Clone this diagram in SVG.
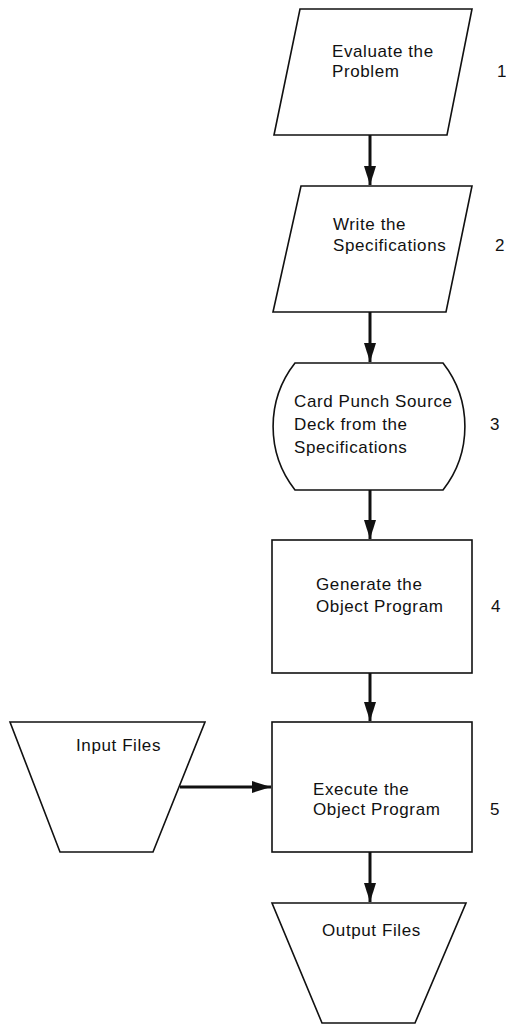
<svg xmlns="http://www.w3.org/2000/svg" width="506" height="1035" viewBox="0 0 506 1035">
<style>
.shape{fill:#fff;stroke:#111;stroke-width:1.6;stroke-linejoin:miter}
.lbl{font-family:"Liberation Sans",Arial,sans-serif;font-size:17px;letter-spacing:0.6px;fill:#111}
.num{font-family:"Liberation Sans",Arial,sans-serif;font-size:17px;fill:#111}
.conn{stroke:#111;stroke-width:3;fill:none}
</style>
<defs>
<marker id="ah" markerUnits="userSpaceOnUse" markerWidth="20" markerHeight="12" refX="19" refY="6" orient="auto">
<path d="M0,0 L19,6 L0,12 Z" fill="#111"/>
</marker>
</defs>
<rect width="506" height="1035" fill="#fff"/>
<g id="connectors">
<line class="conn" x1="370" y1="135" x2="370" y2="185" marker-end="url(#ah)"/>
<line class="conn" x1="370" y1="312" x2="370" y2="362" marker-end="url(#ah)"/>
<line class="conn" x1="370" y1="490" x2="370" y2="539" marker-end="url(#ah)"/>
<line class="conn" x1="370" y1="673" x2="370" y2="721" marker-end="url(#ah)"/>
<line class="conn" x1="180" y1="787" x2="271" y2="787" marker-end="url(#ah)"/>
<line class="conn" x1="370" y1="852" x2="370" y2="902" marker-end="url(#ah)"/>
</g>
<g id="n1">
<polygon class="shape" points="300,9 472,9 447,135 274,135"/>
<text class="lbl" x="332" y="57">Evaluate the</text>
<text class="lbl" x="332" y="77">Problem</text>
<text class="num" x="497" y="77">1</text>
</g>
<g id="n2">
<polygon class="shape" points="301,186 472,186 446,312 273,312"/>
<text class="lbl" x="333" y="230">Write the</text>
<text class="lbl" x="333" y="251">Specifications</text>
<text class="num" x="495" y="251">2</text>
</g>
<g id="n3">
<path class="shape" d="M295,363 L443,363 A103,103 0 0 1 443,490 L295,490 A103,103 0 0 1 295,363 Z"/>
<text class="lbl" x="294" y="407">Card Punch Source</text>
<text class="lbl" x="294" y="430">Deck from the</text>
<text class="lbl" x="294" y="453">Specifications</text>
<text class="num" x="490" y="430">3</text>
</g>
<g id="n4">
<rect class="shape" x="272" y="540" width="200" height="133"/>
<text class="lbl" x="316" y="590">Generate the</text>
<text class="lbl" x="316" y="612">Object Program</text>
<text class="num" x="491" y="612">4</text>
</g>
<g id="n5">
<rect class="shape" x="272" y="722" width="200" height="130"/>
<text class="lbl" x="313" y="795">Execute the</text>
<text class="lbl" x="313" y="815">Object Program</text>
<text class="num" x="490" y="815">5</text>
</g>
<g id="input">
<polygon class="shape" points="10,722 205,722 153,852 60,852"/>
<text class="lbl" x="76" y="751">Input Files</text>
</g>
<g id="output">
<polygon class="shape" points="272,903 466,903 415,1023 322,1023"/>
<text class="lbl" x="322" y="936">Output Files</text>
</g>
</svg>
